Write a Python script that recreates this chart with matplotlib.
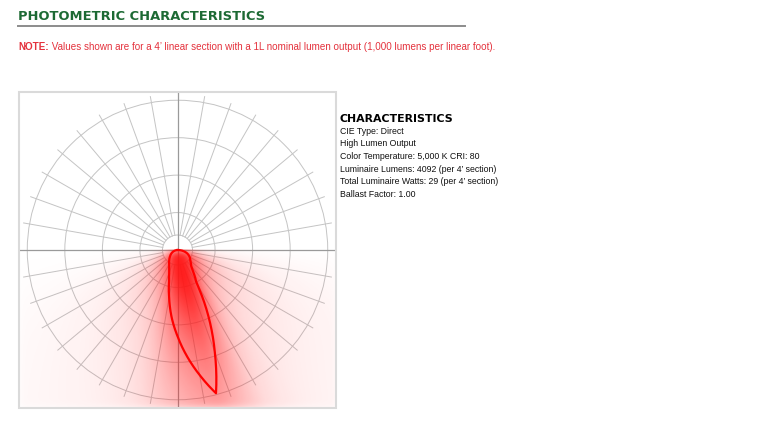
import numpy as np
import matplotlib
matplotlib.use("Agg")
import matplotlib.pyplot as plt
from matplotlib.patches import Circle, Rectangle

# ---- data (relative luminous intensity, outer ring = 1.0) ----
angles_deg = [-90, -80, -70, -60, -50, -40, -30, -25, -20, -15, -10, -5, 0,
              5, 10, 15, 20, 25, 30, 35, 40, 45, 50, 55, 60, 65, 70, 75, 80, 85, 90]
intensity = [0.0, 0.012, 0.03, 0.048, 0.064, 0.085, 0.11, 0.13, 0.16, 0.215, 0.32, 0.45, 0.575,
             0.71, 0.847, 0.99, 0.726, 0.485, 0.25, 0.187, 0.142, 0.126, 0.112, 0.103, 0.093, 0.082,
             0.07, 0.055, 0.038, 0.02, 0.0]
ring_values = [0.25, 0.5, 0.75, 1.0]
spoke_step_deg = 10

title = "PHOTOMETRIC CHARACTERISTICS"
note_bold = "NOTE:"
note_text = " Values shown are for a 4\u2019 linear section with a 1L nominal lumen output (1,000 lumens per linear foot)."
char_title = "CHARACTERISTICS"
char_lines = ["CIE Type: Direct",
              "High Lumen Output",
              "Color Temperature: 5,000 K CRI: 80",
              "Luminaire Lumens: 4092 (per 4\u2019 section)",
              "Total Luminaire Watts: 29 (per 4\u2019 section)",
              "Ballast Factor: 1.00"]

W, H = 775, 426
fig = plt.figure(figsize=(W / 100, H / 100), dpi=100)
fig.patch.set_facecolor("white")

def px(x, y):
    return x / W, 1 - y / H

# ---- header text ----
fig.text(*px(18, 16.5), title, fontsize=9.4, fontweight="bold", color="#1d6a34",
         family="DejaVu Sans", va="center", ha="left")
fig.add_artist(plt.Line2D([18 / W, 465 / W], [1 - 25.5 / H, 1 - 25.5 / H],
                          color="#8c8c8c", lw=1.4, transform=fig.transFigure))
t = fig.text(*px(18, 46.5), note_bold, fontsize=7.1, fontweight="bold", color="#e4313c",
             family="Liberation Sans", va="center", ha="left")
fig.canvas.draw()
bb = t.get_window_extent()
fig.text(bb.x1 / W, 1 - 46.5 / H, note_text, fontsize=7.1, color="#e4313c",
         family="Liberation Sans", va="center", ha="left")

# characteristics block
fig.text(*px(340, 118.7), char_title, fontsize=7.9, fontweight="bold", color="black",
         family="DejaVu Sans", va="center", ha="left")
for i, line in enumerate(char_lines):
    fig.text(*px(340, 131.3 + i * 12.6), line, fontsize=6.3, color="#111111",
             family="Liberation Sans", va="center", ha="left")

# ---- polar panel ----
L, R, T, B = 19, 336, 92, 408
ax = fig.add_axes([L / W, 1 - B / H, (R - L) / W, (B - T) / H])
lim = 1.055
ax.set_xlim(-lim, lim)
ax.set_ylim(-lim, lim)
ax.set_aspect("auto")
ax.axis("off")

grid_c = "#c4c4c4"
for rv in [0.1] + ring_values:
    ax.add_patch(Circle((0, 0), rv, fill=False, ec=grid_c, lw=0.7, zorder=1))
for a in range(0, 360, spoke_step_deg):
    if a % 90 == 0:
        continue
    th = np.deg2rad(a)
    ax.plot([0.1 * np.cos(th), 1.04 * np.cos(th)], [0.1 * np.sin(th), 1.04 * np.sin(th)],
            color=grid_c, lw=0.7, zorder=1)
ax.plot([-lim, lim], [0, 0], color="#9a9a9a", lw=0.9, zorder=1)
ax.plot([0, 0], [-lim, lim], color="#9a9a9a", lw=0.9, zorder=1)

# ---- glow derived from the intensity data ----
ang = np.array(angles_deg, float)
ival = np.array(intensity, float)
fine = np.linspace(-180, 180, 1441)
ifine = np.interp(fine, ang, ival, left=0, right=0)
sig = 8.0
kern_x = np.arange(-40, 40.25, 0.25)
kern = np.exp(-0.5 * (kern_x / sig) ** 2)
kern /= kern.sum()
ismooth = np.convolve(ifine, kern, mode="same")
ig = 0.6 * ifine + 0.4 * ismooth

N = 420
xs = np.linspace(-lim, lim, N)
X, Y = np.meshgrid(xs, xs)
Rr = np.hypot(X, Y)
TH = np.degrees(np.arctan2(X, -Y))
G = np.interp(TH, fine, ig)
k, p = 0.7, 1.3
alpha = 1 - np.exp(-k * G / np.maximum(Rr, 0.03) ** p)
alpha[Y > 0] = 0

def blur(a, s):
    n = int(3 * s)
    xk = np.arange(-n, n + 1)
    g = np.exp(-0.5 * (xk / s) ** 2)
    g /= g.sum()
    a = np.apply_along_axis(lambda m: np.convolve(m, g, mode="same"), 0, a)
    a = np.apply_along_axis(lambda m: np.convolve(m, g, mode="same"), 1, a)
    return a

alpha = blur(alpha, 5.0)
alpha[Y > 0.005] = 0
img = np.zeros((N, N, 4))
img[..., 0] = 1.0
img[..., 1] = 0.08
img[..., 2] = 0.08
img[..., 3] = np.clip(alpha * 0.97, 0, 1)
ax.imshow(img, extent=[-lim, lim, -lim, lim], origin="lower", zorder=2,
          interpolation="bilinear", aspect="auto")

# ---- intensity curve ----
tf = np.linspace(-90, 90, 721)
rf = np.interp(tf, ang, ival)
ax.plot(rf * np.sin(np.deg2rad(tf)), -rf * np.cos(np.deg2rad(tf)), color="#ff0000",
        lw=1.6, zorder=3, solid_joinstyle="round")

ax.add_patch(Rectangle((0, 0), 1, 1, transform=ax.transAxes, fill=False,
                       ec="#dadada", lw=1.5, zorder=4, clip_on=False))

fig.savefig("out.png", dpi=100, facecolor="white")
